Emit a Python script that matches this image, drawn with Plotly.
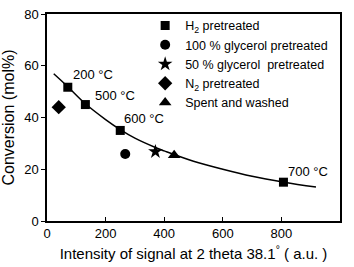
import plotly.graph_objects as go

# Data
h2_x = [71, 131, 250, 807]
h2_y = [51.7, 45, 35, 15]
gly100_x = [267]
gly100_y = [25.9]
gly50_x = [370]
gly50_y = [26.8]
n2_x = [40]
n2_y = [44]
spent_x = [434]
spent_y = [25.4]

# Fitted trend curve
curve_x = [23, 70, 130, 200, 250, 300, 370, 400, 500, 600, 700, 810, 918]
curve_y = [56.9, 52, 45.4, 39.2, 35.3, 32.0, 28.4, 27.1, 23.1, 20.0, 17.3, 15.0, 13.1]

temp_labels = ["200 °C", "500 °C", "600 °C", "700 °C"]
temp_lx = [82, 158, 257, 815]
temp_ly = [56.5, 48.5, 39.5, 19.2]

FONT = "Arial, Liberation Sans, sans-serif"

fig = go.Figure()
fig.add_trace(go.Scatter(x=curve_x, y=curve_y, mode="lines", line=dict(color="black", width=1.5, shape="spline"),
                         showlegend=False, hoverinfo="skip"))
fig.add_trace(go.Scatter(x=h2_x, y=h2_y, mode="markers", name="H<sub>2</sub> pretreated",
                         marker=dict(symbol="square", size=9, color="black")))
fig.add_trace(go.Scatter(x=gly100_x, y=gly100_y, mode="markers", name="100 % glycerol pretreated",
                         marker=dict(symbol="circle", size=10, color="black")))
fig.add_trace(go.Scatter(x=gly50_x, y=gly50_y, mode="markers", name="50 % glycerol  pretreated",
                         marker=dict(symbol="star", size=11, color="black")))
fig.add_trace(go.Scatter(x=n2_x, y=n2_y, mode="markers", name="N<sub>2</sub> pretreated",
                         marker=dict(symbol="diamond", size=11, color="black")))
fig.add_trace(go.Scatter(x=spent_x, y=spent_y, mode="markers", name="Spent and washed",
                         marker=dict(symbol="triangle-up", size=11, color="black")))

for t, x, y in zip(temp_labels, temp_lx, temp_ly):
    fig.add_annotation(x=x, y=y, text=t, showarrow=False, xanchor="left", yanchor="middle",
                       font=dict(family=FONT, size=13, color="black"))

fig.update_layout(
    width=354, height=267,
    margin=dict(l=46.5, r=14, t=7, b=44),
    paper_bgcolor="white", plot_bgcolor="white",
    font=dict(family=FONT, size=13, color="black"),
    legend=dict(x=0.335, y=1.015, xanchor="left", yanchor="top", bgcolor="rgba(0,0,0,0)",
                font=dict(family=FONT, size=12.5, color="black"), itemwidth=30, tracegroupgap=0),
    xaxis=dict(range=[0, 1000], tickvals=[0, 200, 400, 600, 800, 1000], ticks="inside", ticklen=4,
               tickcolor="black", showline=True, linecolor="black", linewidth=1.5, mirror=True,
               showgrid=False, zeroline=False,
               title=dict(text="Intensity of signal at 2 theta 38.1<sup>°</sup> ( a.u. )",
                          font=dict(family=FONT, size=15, color="black"), standoff=8)),
    yaxis=dict(range=[0, 80], tickvals=[0, 20, 40, 60, 80], ticks="outside", ticklen=4,
               tickcolor="black", showline=True, linecolor="black", linewidth=1.5, mirror=True,
               showgrid=False, zeroline=False,
               title=dict(text="Conversion (mol%)", font=dict(family=FONT, size=16, color="black"), standoff=6)),
)

fig.write_html("out.html", config={"displayModeBar": False},
               post_script="document.body.style.margin='0';")
